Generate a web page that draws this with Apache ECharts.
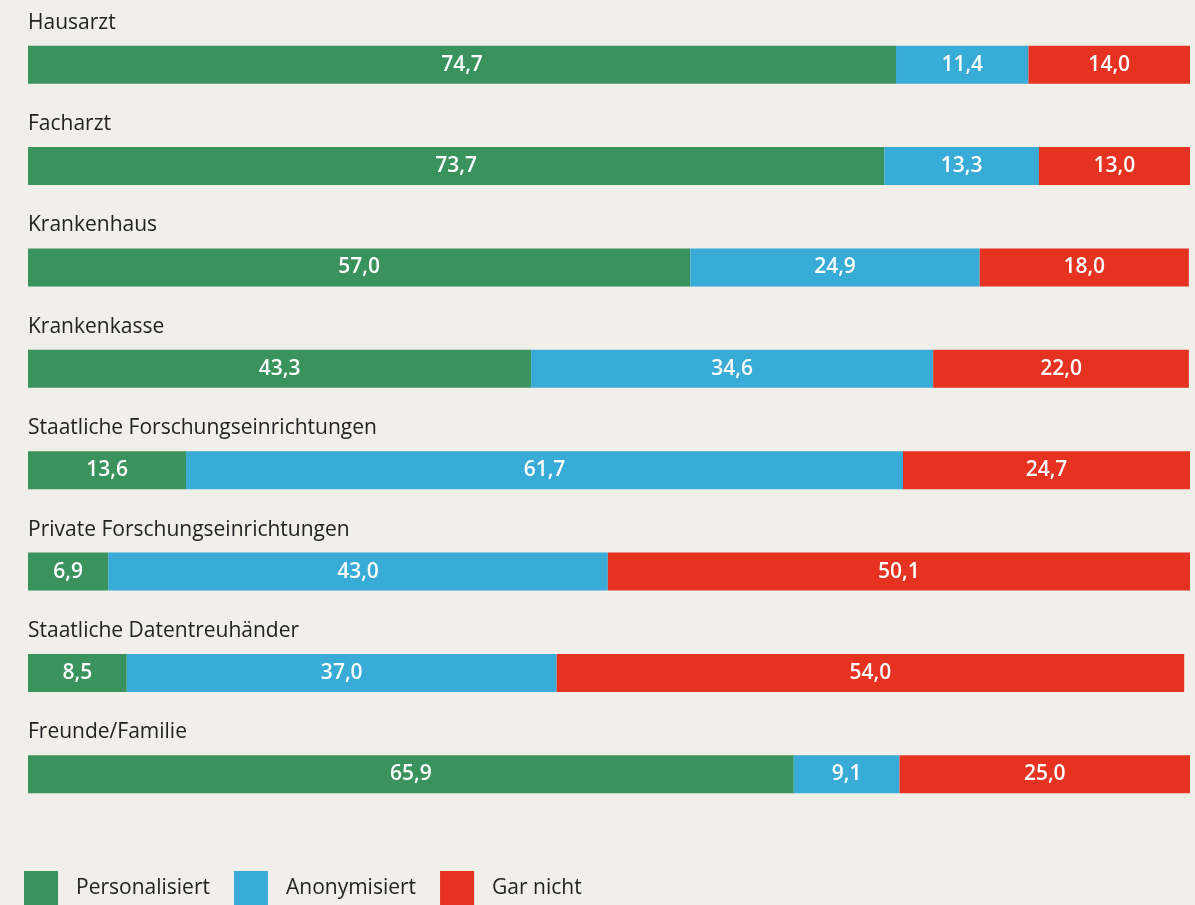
<!DOCTYPE html>
<html>
<head>
<meta charset="utf-8">
<script src="https://cdn.jsdelivr.net/npm/echarts@6/dist/echarts.min.js"></script>
<style>
  html, body { margin: 0; padding: 0; background: #f0efea; }
  #chart { width: 1195px; height: 905px; }
</style>
</head>
<body>
<div id="chart"></div>
<script>
var categories = ['Hausarzt', 'Facharzt', 'Krankenhaus', 'Krankenkasse',
    'Staatliche Forschungseinrichtungen', 'Private Forschungseinrichtungen',
    'Staatliche Datentreuhänder', 'Freunde/Familie'];
var personalisiert = [74.7, 73.7, 57.0, 43.3, 13.6, 6.9, 8.5, 65.9];
var anonymisiert = [11.4, 13.3, 24.9, 34.6, 61.7, 43.0, 37.0, 9.1];
var garNicht = [14.0, 13.0, 18.0, 22.0, 24.7, 50.1, 54.0, 25.0];

var font = '"Open Sans", "Noto Sans", sans-serif';

function fmt(p) {
    return p.value.toFixed(1).replace('.', ',');
}

function barSeries(name, data, color) {
    return {
        name: name,
        type: 'bar',
        stack: 'total',
        barWidth: 38,
        data: data,
        itemStyle: { color: color },
        label: {
            show: true,
            position: 'inside',
            color: '#ffffff',
            fontFamily: font,
            fontSize: 21,
            fontWeight: 600,
            formatter: fmt
        }
    };
}

var myChart = echarts.init(document.getElementById('chart'));
var option = {
    backgroundColor: '#f0efea',
    animation: false,
    grid: { left: 28, right: 5, top: 14, bottom: 80, containLabel: false },
    legend: {
        left: 19,
        top: 866,
        itemWidth: 34,
        itemHeight: 34,
        itemGap: 24,
        icon: 'rect',
        textStyle: { fontFamily: font, fontSize: 21, color: '#222', padding: [0, 0, 0, 13] },
        data: ['Personalisiert', 'Anonymisiert', 'Gar nicht']
    },
    xAxis: { type: 'value', min: 0, max: 100, show: false },
    yAxis: {
        type: 'category',
        data: categories,
        inverse: true,
        axisLine: { show: false },
        axisTick: { show: false },
        splitLine: { show: false },
        axisLabel: {
            inside: true,
            margin: 0,
            formatter: function (v) { return '{a|' + v + '}'; },
            rich: {
                a: {
                    fontFamily: font,
                    fontSize: 21,
                    color: '#222',
                    padding: [0, 0, 84, 0]
                }
            }
        }
    },
    series: [
        barSeries('Personalisiert', personalisiert, '#3a935d'),
        barSeries('Anonymisiert', anonymisiert, '#38abd6'),
        barSeries('Gar nicht', garNicht, '#e63221')
    ]
};
myChart.setOption(option);
</script>
</body>
</html>
